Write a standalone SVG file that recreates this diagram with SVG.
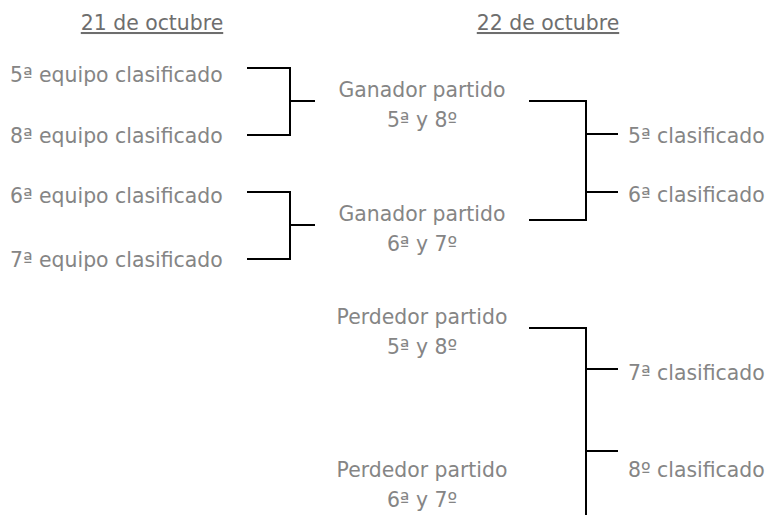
<svg xmlns="http://www.w3.org/2000/svg" width="768" height="515" viewBox="0 0 768 515">
<style>
text{font-family:"DejaVu Sans","Liberation Sans",sans-serif;font-size:20.4px;fill:#858585}
.h{fill:#6e6e6e;text-decoration:underline;text-anchor:middle}
.c{text-anchor:middle}
.ln{fill:none;stroke:#000;stroke-width:2}
</style>
<rect width="768" height="515" fill="#fff"/>
<g id="header-21"><text class="h" x="152" y="30">21 de octubre</text></g>
<g id="header-22"><text class="h" x="548" y="30">22 de octubre</text></g>
<g id="team5"><text x="10" y="82">5ª equipo clasificado</text></g>
<g id="team8"><text x="10" y="143">8ª equipo clasificado</text></g>
<g id="team6"><text x="10" y="203">6ª equipo clasificado</text></g>
<g id="team7"><text x="10" y="267">7ª equipo clasificado</text></g>
<g id="win58"><text class="c" x="422" y="97">Ganador partido</text><text class="c" x="422" y="127">5ª y 8º</text></g>
<g id="win67"><text class="c" x="422" y="221">Ganador partido</text><text class="c" x="422" y="251">6ª y 7º</text></g>
<g id="lose58"><text class="c" x="422" y="324">Perdedor partido</text><text class="c" x="422" y="354">5ª y 8º</text></g>
<g id="lose67"><text class="c" x="422" y="477">Perdedor partido</text><text class="c" x="422" y="507">6ª y 7º</text></g>
<g id="place5"><text x="628" y="143">5ª clasificado</text></g>
<g id="place6"><text x="628" y="202">6ª clasificado</text></g>
<g id="place7"><text x="628" y="380">7ª clasificado</text></g>
<g id="place8"><text x="628" y="477">8º clasificado</text></g>
<g id="connectors">
<path class="ln" d="M247 68H290V135H247M290 101H315"/>
<path class="ln" d="M247 192H290V259H247M290 225H315"/>
<path class="ln" d="M529 101H586V220H529M586 134H618M586 192H618"/>
<path class="ln" d="M529 328H586V515M586 369H618M586 451H618"/>
</g>
</svg>
